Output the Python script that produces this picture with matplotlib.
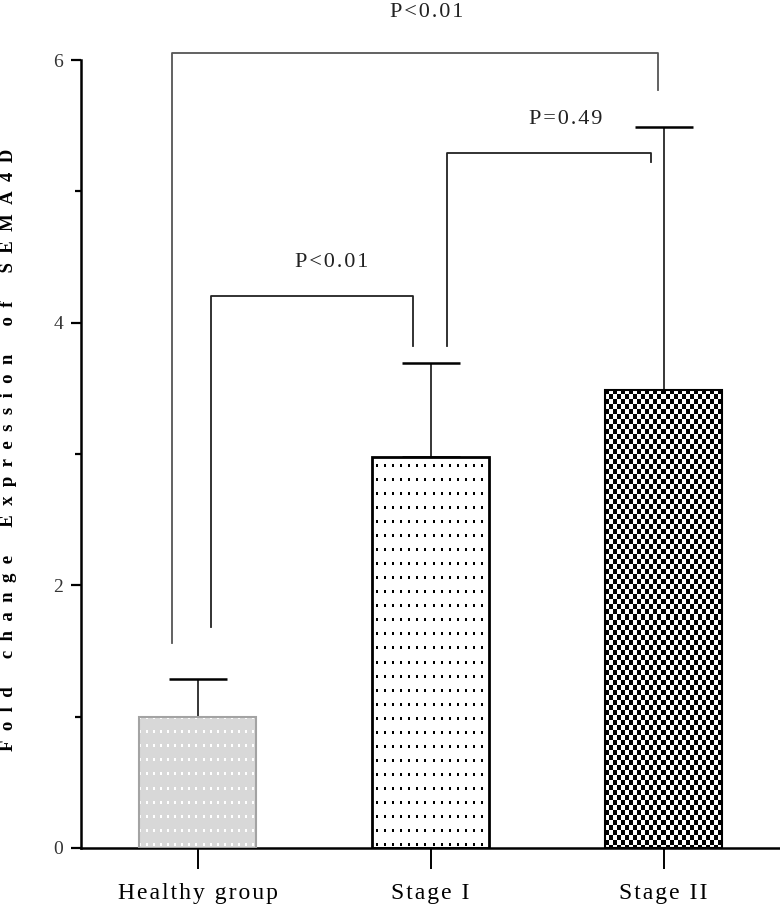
import numpy as np
import matplotlib
matplotlib.use('Agg')
import matplotlib.pyplot as plt

groups = ['Healthy group', 'Stage I', 'Stage II']
means = [1.0, 2.98, 3.49]
err_up = [0.29, 0.71, 2.0]

# significance brackets: (left x, right x, top y, left leg end, right leg end), label
brackets = [
    ((0.06, 0.925, 4.20, 1.68, 3.82), 'P<0.01'),
    ((1.07, 1.945, 5.29, 3.82, 5.22), 'P=0.49'),
    ((-0.11, 1.975, 6.05, 1.56, 5.77), 'P<0.01'),
]
label_pos = [(0.575, 4.46), (1.58, 5.55), (0.985, 6.36)]

serif = ['Liberation Serif', 'DejaVu Serif']
HS = '\u200a'


def spaced(s, sep=HS):
    return sep.join(list(s))


def texture(kind, w, h):
    yy, xx = np.mgrid[0:h, 0:w]
    img = np.ones((h, w, 3))
    if kind == 'gray':
        img[:] = 0.85
        dots = (xx % 7 < 2) & (yy % 14 < 3)
        img[dots] = 1.0
    elif kind == 'dots':
        dots = ((xx + 4) % 8 < 2) & ((yy + 6) % 14 < 3)
        img[dots] = 0.0
    else:
        cx = np.floor(xx / 4.0).astype(int)
        cy = np.floor(yy / 5.0).astype(int)
        img[(cx + cy) % 2 == 0] = 0.0
    return img


fig = plt.figure(figsize=(7.8, 9.15), dpi=100)
ax = fig.add_axes([81 / 780, 67 / 915, 699 / 780, 788 / 915])
ax.set_xlim(-0.5, 2.5)
ax.set_ylim(0, 6)

x = np.arange(len(groups))
edges = ['#a3a3a3', 'black', 'black']
lws = [1.5, 2.0, 1.5]
bars = ax.bar(x, means, width=0.5, facecolor='none', edgecolor=edges,
              linewidth=lws, zorder=3)

ax.errorbar(x, means, yerr=[np.zeros(3), err_up], fmt='none', ecolor='black',
            elinewidth=1.1, capsize=21, capthick=1.8, zorder=1)

for bar, kind in zip(bars, ['gray', 'dots', 'check']):
    x0, y0 = bar.get_x(), bar.get_y()
    x1, y1 = x0 + bar.get_width(), y0 + bar.get_height()
    p0 = ax.transData.transform((x0, y0))
    p1 = ax.transData.transform((x1, y1))
    w, h = int(round(p1[0] - p0[0])), int(round(p1[1] - p0[1]))
    im = ax.imshow(texture(kind, w, h), extent=(x0, x1, y0, y1), aspect='auto',
                   interpolation='nearest', zorder=2)
    im.set_clip_path(bar)

ax.set_xlim(-0.5, 2.5)
ax.set_ylim(0, 6)

for i, ((xl, xr, yt, yl, yr), txt) in enumerate(brackets):
    col = '#555555' if i == 2 else '#222222'
    ax.plot([xl, xl, xr, xr], [yl, yt, yt, yr], color=col, lw=1.3,
            clip_on=False, zorder=4)
    tx, ty = label_pos[i]
    ax.text(tx, ty, spaced(txt), ha='center', va='center', fontsize=16,
            family=serif, color='#222222', clip_on=False)

for s in ['top', 'right']:
    ax.spines[s].set_visible(False)
ax.spines['left'].set_linewidth(1.8)
ax.spines['bottom'].set_linewidth(1.8)

ax.set_yticks([0, 2, 4, 6])
ax.set_yticks([1, 3, 5], minor=True)
ax.tick_params(axis='y', which='major', length=7, width=1.6, pad=6,
               labelsize=14, labelcolor='#333333')
ax.tick_params(axis='y', which='minor', length=4, width=1.6)
for t in ax.get_yticklabels():
    t.set_family(serif)

ax.set_xticks(x)
ax.set_xticklabels([spaced(g) for g in groups], family=serif, fontsize=17)
ax.tick_params(axis='x', length=15, width=1.4, pad=10)

ylab = '\u2002'.join('Fold change Expression of SEMA4D').replace('\u2002 \u2002', '\u2003\u2002')
fig.text(9 / 780, 465 / 915, ylab, rotation=90, ha='center', va='center',
         fontsize=13.5, fontweight='bold', family=serif)

fig.savefig('out.png', dpi=100)
